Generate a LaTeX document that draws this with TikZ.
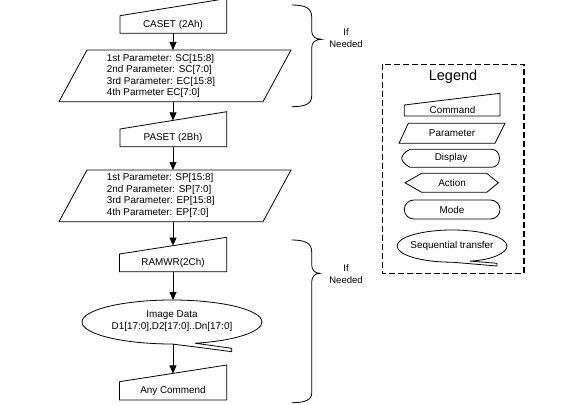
\documentclass[tikz,border=0pt]{standalone}
\usepackage{fontspec}
\setmainfont{Liberation Sans}
\usetikzlibrary{arrows.meta}
\begin{document}
\begin{tikzpicture}[x=1pt,y=-1pt,
  shp/.style={draw=black,line width=0.8pt,line join=miter},
  lbl/.style={font=\fontsize{9.9}{11.5}\selectfont,inner sep=0pt},
  ifn/.style={font=\fontsize{9.5}{12}\selectfont,inner sep=0pt,align=center},
  flow/.style={line width=0.8pt,-{Triangle[length=8pt,width=7pt]}},
  brc/.style={line width=0.8pt},
  legbox/.style={line width=1.6pt,dash pattern=on 6pt off 3pt}
]
\clip (0,0) rectangle (585,404);
\fill[white] (0,0) rectangle (585,404);

% CASET
\draw[shp] (120,15.7) -- (226.7,-1.5) -- (226.7,33.3) -- (120,33.3) -- cycle;
\node[lbl] (caset) at (173,25) {CASET (2Ah)};
\coordinate (casetB) at (173,33.3);

% Parameter 1
\draw[shp] (87,50) -- (291,50) -- (263,101.7) -- (59,101.7) -- cycle;
\node[lbl,align=left,anchor=west] (p1) at (106.7,75.8) {1st Parameter: SC[15:8]\\2nd Parameter: SC[7:0]\\3rd Parameter: EC[15:8]\\4th Parmeter EC[7:0]};
\coordinate (p1T) at (173,50);
\coordinate (p1B) at (173,101.7);

% PASET
\draw[shp] (120,129) -- (226.7,111.7) -- (226.7,146.7) -- (120,146.7) -- cycle;
\node[lbl] (paset) at (173,137.7) {PASET (2Bh)};
\coordinate (pasetT) at (173,120.4);
\coordinate (pasetB) at (173,146.7);

% Parameter 2
\draw[shp] (87,170) -- (291,170) -- (263,221.7) -- (59,221.7) -- cycle;
\node[lbl,align=left,anchor=west] (p2) at (106.7,195.6) {1st Parameter: SP[15:8]\\2nd Parameter: SP[7:0]\\3rd Parameter: EP[15:8]\\4th Parameter: EP[7:0]};
\coordinate (p2T) at (173,170);
\coordinate (p2B) at (173,221.7);

% RAMWR
\draw[shp] (119.5,254) -- (226.7,237.3) -- (226.7,271.7) -- (119.5,271.7) -- cycle;
\node[lbl] (ramwr) at (173,263.3) {RAMWR(2Ch)};
\coordinate (ramT) at (173,245.6);
\coordinate (ramB) at (173,271.7);

% Image data (sequential transfer)
\draw[shp] (231.7,351.7) .. controls (200,347.5) .. (172,344)
  .. controls (122.3,344) and (82,334) .. (82,322)
  .. controls (82,309.9) and (122.3,300) .. (172,300)
  .. controls (221.7,300) and (262,309.9) .. (262,322)
  .. controls (262,331.5) and (235,341) .. (195,343.2)
  -- (231.7,348.3) -- cycle;
\node[lbl,align=center,font=\fontsize{9.9}{11.7}\selectfont] (img) at (172,321) {Image Data\\D1[17:0],D2[17:0]..Dn[17:0]};
\coordinate (imgT) at (173,300);
\coordinate (imgB) at (173,344);

% Any Commend
\draw[shp] (119.5,381.7) -- (226.7,365) -- (226.7,400) -- (119.5,400) -- cycle;
\node[lbl] (any) at (173,390.7) {Any Commend};
\coordinate (anyT) at (173,373.4);

% connectors
\draw[flow] (casetB) -- (p1T);
\draw[flow] (p1B) -- (pasetT);
\draw[flow] (pasetB) -- (p2T);
\draw[flow] (p2B) -- (ramT);
\draw[flow] (ramB) -- (imgT);
\draw[flow] (imgB) -- (anyT);

% braces
\draw[brc] (291.7,5) .. controls (305,5) and (311.7,8) .. (311.7,17) -- (311.7,31)
  .. controls (311.7,36) and (315,39.3) .. (321.7,39.3)
  .. controls (315,39.3) and (311.7,42.5) .. (311.7,48) -- (311.7,96)
  .. controls (311.7,104) and (305,106.7) .. (291.7,106.7);
\node[ifn] (if1) at (346,38) {If\\Needed};

\draw[brc] (291.7,240) .. controls (305,240) and (311.7,243) .. (311.7,252) -- (311.7,265)
  .. controls (311.7,270) and (315,273.3) .. (320,273.3)
  .. controls (315,273.3) and (311.7,276.5) .. (311.7,282) -- (311.7,393)
  .. controls (311.7,400) and (305,402.7) .. (291.7,402.7);
\node[ifn] (if2) at (346,274.2) {If\\Needed};

% legend
\draw[legbox] (382.3,64.3) rectangle (524,273.3);
\node[font=\fontsize{14.5}{17}\selectfont,inner sep=0pt] (legend) at (453,76.7) {Legend};

\draw[shp] (404.3,105) -- (500,93.3) -- (500,116) -- (404.3,116) -- cycle;
\node[lbl] (lcmd) at (452.5,109.5) {Command};

\draw[shp] (408.3,123.3) -- (505,123.3) -- (495,143.3) -- (399,143.3) -- cycle;
\node[lbl] (lpar) at (452,133) {Parameter};

\draw[shp] (410,149.3) -- (491.7,149.3) .. controls (502,149.3) and (502,167.3) .. (491.7,167.3)
  -- (410,167.3) .. controls (404,164.5) and (401.7,160) .. (401.7,158.3)
  .. controls (401.7,156.5) and (404,152) .. (410,149.3) -- cycle;
\node[lbl] (ldisp) at (451,157.6) {Display};

\draw[shp] (405,182.8) -- (421.7,173.3) -- (486.7,173.3) -- (498.3,182.8) -- (486.7,192.3) -- (421.7,192.3) -- cycle;
\node[lbl] (lact) at (452,182.8) {Action};

\draw[shp,rounded corners=9.5pt] (404.3,200) rectangle (500,219);
\node[lbl] (lmode) at (452,209.5) {Mode};

\draw[shp] (497,266) .. controls (475,264.5) .. (452,262.2)
  .. controls (421.6,262.2) and (397,255) .. (397,246)
  .. controls (397,237.2) and (421.6,230) .. (452,230)
  .. controls (482.4,230) and (507,237.2) .. (507,246)
  .. controls (507,253) and (492,260) .. (470,261.1)
  -- (497,263.3) -- cycle;
\node[lbl] (lseq) at (452,245.5) {Sequential transfer};
\end{tikzpicture}
\end{document}
